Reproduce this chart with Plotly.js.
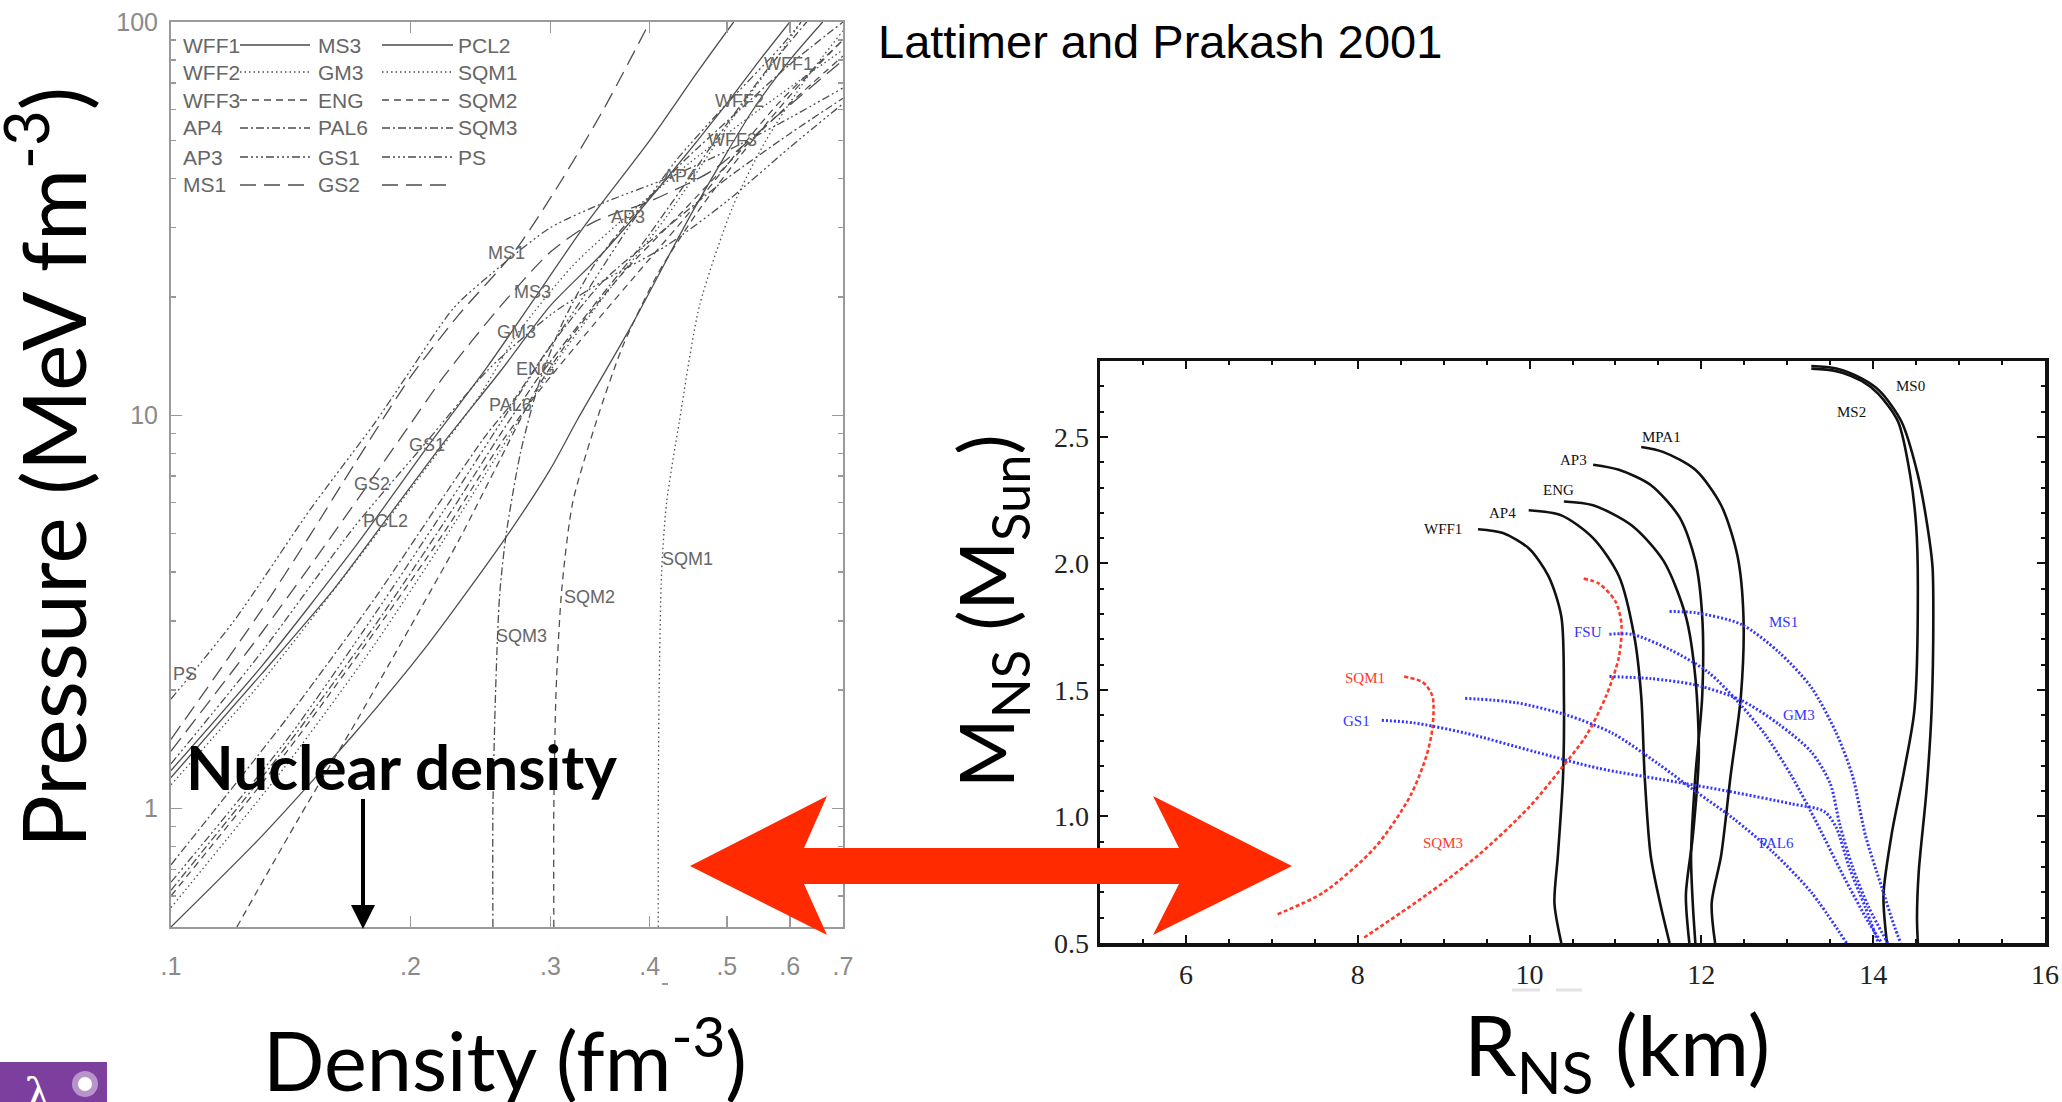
<!DOCTYPE html>
<html>
<head>
<meta charset="utf-8">
<script src="https://cdn.plot.ly/plotly-3.0.1.min.js"></script>
<style>html,body{margin:0;padding:0;background:#fff;}#chart{width:2062px;height:1102px;}</style>
</head>
<body>
<div id="chart"></div>
<script>
// ---------------- LEFT PANEL DATA: pressure (MeV fm^-3) vs density (fm^-3) ----------------
const rho_WFF1 = [0.1,0.13,0.17,0.21,0.262,0.3,0.324,0.38,0.453,0.54,0.6,0.66];
const P_WFF1   = [0.5,0.85,1.55,2.6,4.8,7.3,9.7,17,33,60,80,100];
const rho_WFF2 = [0.1,0.14,0.18,0.22,0.26,0.3,0.35,0.42,0.518,0.58,0.62];
const P_WFF2   = [0.56,1.3,2.6,4.8,8.2,13,20,32,60,82,100];
const rho_WFF3 = [0.1,0.14,0.18,0.22,0.26,0.29,0.34,0.4,0.45,0.508,0.58,0.7];
const P_WFF3   = [0.6,1.4,2.8,5.0,8.5,11.5,17,25,33,45,62,90];
const rho_AP4  = [0.1,0.14,0.18,0.22,0.26,0.29,0.34,0.39,0.436,0.5,0.56,0.63];
const P_AP4    = [0.62,1.45,2.9,5.3,9,12.5,19,27,37,55,75,100];
const rho_AP3  = [0.1,0.14,0.18,0.22,0.26,0.29,0.33,0.376,0.43,0.5,0.58,0.62];
const P_AP3    = [0.65,1.5,3.1,5.7,9.6,13.5,20,30,44,62,85,100];
const rho_MS1  = [0.1,0.13,0.15,0.17,0.2,0.23,0.27,0.306,0.35,0.4];
const P_MS1    = [1.5,3.2,5.0,7.5,12.5,18,26,38,60,100];
const rho_MS3  = [0.1,0.13,0.17,0.21,0.25,0.285,0.33,0.4,0.46,0.51];
const P_MS3    = [1.25,2.3,4.6,8.3,13.3,19.5,30,50,75,100];
const rho_GM3  = [0.1,0.13,0.17,0.21,0.245,0.272,0.32,0.38,0.45,0.55,0.7];
const P_GM3    = [1.15,2.1,4.2,7.4,11.3,16,24,33,44,60,85];
const rho_ENG  = [0.121,0.145,0.172,0.2,0.23,0.26,0.287,0.32,0.37,0.44,0.52,0.6,0.7];
const P_ENG    = [0.5,0.95,1.7,2.9,4.8,7.8,11.5,16,23,33,47,62,82];
const rho_PAL6 = [0.1,0.14,0.18,0.22,0.25,0.267,0.3,0.35,0.42,0.5,0.6,0.7];
const P_PAL6   = [0.72,1.7,3.4,6.2,9,10.6,15,22,30,40,52,64];
const rho_GS1  = [0.1,0.13,0.17,0.21,0.25,0.3,0.35,0.42,0.5,0.6,0.7];
const P_GS1    = [1.3,2.5,5.2,8.6,13,18,22,27,35,48,62];
const rho_GS2  = [0.1,0.13,0.16,0.179,0.2,0.22,0.26,0.3,0.34,0.4,0.48,0.58,0.7];
const P_GS2    = [1.4,2.8,5.0,6.9,9.5,12.5,19,26,31,35,42,58,80];
const rho_PCL2 = [0.1,0.13,0.16,0.186,0.22,0.26,0.3,0.35,0.42,0.5,0.55,0.6];
const P_PCL2   = [1.2,2.2,3.6,5.4,8.5,13,19,26,40,62,80,100];
const rho_SQM1 = [0.41,0.41,0.411,0.414,0.42,0.436,0.462,0.509,0.56,0.63,0.7];
const P_SQM1   = [0.5,1,2,4,6,9.7,19,34,50,72,95];
const rho_SQM2 = [0.303,0.303,0.305,0.31,0.32,0.343,0.37,0.41,0.46,0.53,0.62,0.7];
const P_SQM2   = [0.5,1,2,3.6,6,9.7,15,23,33,48,70,90];
const rho_SQM3 = [0.254,0.254,0.256,0.259,0.264,0.275,0.29,0.31,0.34,0.38,0.44,0.52,0.6,0.7];
const P_SQM3   = [0.5,1,2,3.5,5,8,12,17,24,32,44,60,78,100];
const rho_PS   = [0.1,0.12,0.15,0.18,0.2,0.227,0.26,0.3,0.35,0.42,0.5,0.6,0.7];
const P_PS     = [1.9,3.0,5.8,9.5,13,18.8,24,30,34.7,40,47,57,68];

const leftLabelNames = ['WFF1','WFF2','WFF3','AP4','AP3','MS1','MS3','GM3','ENG','PAL6','GS1','GS2','PCL2','SQM1','SQM2','SQM3','PS'];
const leftLabelRho   = [0.598,0.518,0.508,0.436,0.376,0.264,0.285,0.272,0.287,0.267,0.210,0.179,0.186,0.446,0.336,0.276,0.104];
const leftLabelP     = [78,63,50,40.7,32,25.8,20.6,16.3,13.1,10.6,8.4,6.7,5.4,4.3,3.45,2.75,2.2];

const legendCol1 = ['WFF1','WFF2','WFF3','AP4','AP3','MS1'];
const legendCol2 = ['MS3','GM3','ENG','PAL6','GS1','GS2'];
const legendCol3 = ['PCL2','SQM1','SQM2','SQM3','PS',''];

const densityTickVals = [0.1,0.2,0.3,0.4,0.5,0.6,0.7];
const densityTickText = ['.1','.2','.3','.4','.5','.6','.7'];
const pressureTickVals = [1,10,100];
const pressureTickText = ['1','10','100'];

// ---------------- RIGHT PANEL DATA: mass (Msun) vs radius (km) ----------------
const R_WFF1 = [9.40,9.69,9.99,10.22,10.37,10.40,10.39,10.33,10.29,10.37];
const M_WFF1 = [2.135,2.12,2.06,1.95,1.79,1.475,1.16,0.846,0.657,0.5];
const R_AP4  = [9.99,10.37,10.74,11.04,11.22,11.30,11.34,11.41,11.52,11.63];
const M_AP4  = [2.21,2.19,2.10,1.95,1.71,1.475,1.16,0.846,0.657,0.5];
const R_ENG  = [10.40,10.74,11.19,11.56,11.82,11.93,11.97,11.90,11.82,11.86];
const M_ENG  = [2.245,2.23,2.15,2.01,1.79,1.55,1.24,0.92,0.69,0.5];
const R_AP3  = [10.74,11.04,11.41,11.75,11.93,12.01,12.01,11.93,11.88,11.90,11.93];
const M_AP3  = [2.39,2.37,2.31,2.18,2.01,1.79,1.475,1.16,0.846,0.657,0.5];
const R_MPA1 = [11.30,11.56,11.93,12.23,12.42,12.49,12.46,12.34,12.23,12.12,12.16];
const M_MPA1 = [2.46,2.44,2.37,2.23,2.03,1.79,1.475,1.16,0.846,0.657,0.5];
const R_MS0  = [13.28,13.57,13.87,14.08,14.33,14.52,14.63,14.69,14.70,14.68,14.62,14.53,14.51,14.52];
const M_MS0  = [2.78,2.77,2.73,2.68,2.56,2.35,2.15,1.99,1.83,1.42,1.10,0.78,0.6,0.5];
const R_MS2  = [13.28,13.57,13.87,14.06,14.29,14.43,14.50,14.52,14.48,14.36,14.22,14.12,14.16];
const M_MS2  = [2.77,2.76,2.72,2.67,2.56,2.35,2.15,1.91,1.42,1.18,0.94,0.69,0.5];
const R_SQM1 = [8.54,8.76,8.87,8.87,8.80,8.61,8.20,7.60,7.04];
const M_SQM1 = [1.553,1.53,1.475,1.35,1.24,1.08,0.877,0.70,0.61];
const R_SQM3 = [10.63,10.81,11.0,11.07,11.04,10.89,10.66,10.37,9.99,9.40,8.80,8.05];
const M_SQM3 = [1.94,1.92,1.85,1.76,1.63,1.475,1.32,1.19,1.035,0.846,0.69,0.516];
const R_GS1  = [8.28,8.65,9.25,10.07,10.81,11.56,12.31,13.05,13.43,13.57,13.72,13.91,14.06];
const M_GS1  = [1.38,1.37,1.33,1.255,1.19,1.145,1.10,1.05,1.02,0.956,0.80,0.64,0.5];
const R_PAL6 = [9.25,9.84,10.44,10.96,11.49,11.93,12.38,12.83,13.28,13.69];
const M_PAL6 = [1.467,1.45,1.40,1.33,1.21,1.10,0.99,0.86,0.70,0.5];
const R_FSU  = [10.93,11.19,11.63,12.08,12.46,12.75,13.05,13.35,13.65,13.95,14.10];
const M_FSU  = [1.72,1.72,1.66,1.57,1.44,1.32,1.16,0.97,0.767,0.58,0.5];
const R_GM3  = [10.93,11.41,11.93,12.46,12.90,13.28,13.50,13.61,13.76,13.95,14.17];
const M_GM3  = [1.553,1.545,1.52,1.46,1.365,1.255,1.13,0.97,0.80,0.64,0.5];
const R_MS1  = [11.63,11.93,12.46,12.90,13.28,13.57,13.76,13.91,14.10,14.25,14.32];
const M_MS1  = [1.81,1.805,1.76,1.65,1.51,1.33,1.16,0.925,0.72,0.563,0.5];

const rightLabelNames = ['MS0','MS2','MPA1','AP3','ENG','AP4','WFF1','SQM1','GS1','FSU','MS1','GM3','PAL6','SQM3'];
const rightLabelR     = [14.43,13.75,11.54,10.51,10.34,9.69,8.99,8.09,7.99,10.68,12.96,13.14,12.87,8.99];
const rightLabelM     = [2.70,2.60,2.50,2.41,2.29,2.20,2.135,1.546,1.377,1.73,1.77,1.40,0.896,0.896];
const rightLabelKind  = ['k','k','k','k','k','k','k','r','b','b','b','b','b','r'];

const radiusTickVals = [6,8,10,12,14,16];
const massTickVals = [0.5,1.0,1.5,2.0,2.5];
const massTickText = ['0.5','1.0','1.5','2.0','2.5'];

// ---------------- STYLES ----------------
const W = 2062, H = 1102;
const px = x => x / W;
const py = y => 1 - y / H;
const DASH = {
  solid: 'solid',
  dot: '1.5px,3px',
  dash: '7px,5px',
  dashdot: '8px,3px,2px,3px',
  dashdotdot: '8px,3px,2px,3px,2px,3px,2px,3px',
  longdash: '16px,8px'
};
const leftStyle = {
  WFF1:'solid', MS3:'solid', PCL2:'solid',
  WFF2:'dot', GM3:'dot', SQM1:'dot',
  WFF3:'dash', ENG:'dash', SQM2:'dash',
  AP4:'dashdot', PAL6:'dashdot', SQM3:'dashdot',
  AP3:'dashdotdot', GS1:'dashdotdot', PS:'dashdotdot',
  MS1:'longdash', GS2:'longdash'
};
const leftSeries = [
  ['WFF1',rho_WFF1,P_WFF1],['WFF2',rho_WFF2,P_WFF2],['WFF3',rho_WFF3,P_WFF3],
  ['AP4',rho_AP4,P_AP4],['AP3',rho_AP3,P_AP3],['MS1',rho_MS1,P_MS1],
  ['MS3',rho_MS3,P_MS3],['GM3',rho_GM3,P_GM3],['ENG',rho_ENG,P_ENG],
  ['PAL6',rho_PAL6,P_PAL6],['GS1',rho_GS1,P_GS1],['GS2',rho_GS2,P_GS2],
  ['PCL2',rho_PCL2,P_PCL2],['SQM1',rho_SQM1,P_SQM1],['SQM2',rho_SQM2,P_SQM2],
  ['SQM3',rho_SQM3,P_SQM3],['PS',rho_PS,P_PS]
];
const rightSeries = [
  ['WFF1',R_WFF1,M_WFF1,'k'],['AP4',R_AP4,M_AP4,'k'],['ENG',R_ENG,M_ENG,'k'],
  ['AP3',R_AP3,M_AP3,'k'],['MPA1',R_MPA1,M_MPA1,'k'],['MS0',R_MS0,M_MS0,'k'],
  ['MS2',R_MS2,M_MS2,'k'],['SQM1',R_SQM1,M_SQM1,'r'],['SQM3',R_SQM3,M_SQM3,'r'],
  ['GS1',R_GS1,M_GS1,'b'],['PAL6',R_PAL6,M_PAL6,'b'],['FSU',R_FSU,M_FSU,'b'],
  ['GM3',R_GM3,M_GM3,'b'],['MS1',R_MS1,M_MS1,'b']
];
const kindColor = {k:'#111111', r:'#ff3a2a', b:'#3434ff'};
const kindLine = {
  k:{color:'#111111', width:2.6, dash:'solid'},
  r:{color:'#ff3a2a', width:2.6, dash:'4px,2.5px'},
  b:{color:'#3434ff', width:3, dash:'2px,2px'}
};

const traces = [];
leftSeries.forEach(([name, xs, ys]) => {
  traces.push({
    type:'scatter', mode:'lines', name:name, x:xs, y:ys, xaxis:'x', yaxis:'y',
    line:{color:'#4f4f4f', width:1.3, dash:DASH[leftStyle[name]], shape:'spline', smoothing:0.7},
    hoverinfo:'skip'
  });
});
rightSeries.forEach(([name, xs, ys, kind]) => {
  const l = kindLine[kind];
  traces.push({
    type:'scatter', mode:'lines', name:name, x:xs, y:ys, xaxis:'x2', yaxis:'y2',
    line:{color:l.color, width:l.width, dash:l.dash, shape:'spline', smoothing:0.8},
    hoverinfo:'skip'
  });
});

const annotations = [];
const shapes = [];

// left panel curve labels
leftLabelNames.forEach((n, i) => {
  annotations.push({xref:'x', yref:'y', x:Math.log10(leftLabelRho[i]), y:Math.log10(leftLabelP[i]),
    text:n, showarrow:false, xanchor:'center', yanchor:'middle',
    font:{family:'Liberation Sans Narrow, Liberation Sans, Arial', size:18, color:'#666'}});
});
// right panel curve labels
rightLabelNames.forEach((n, i) => {
  annotations.push({xref:'x2', yref:'y2', x:rightLabelR[i], y:rightLabelM[i],
    text:n, showarrow:false, xanchor:'center', yanchor:'middle',
    font:{family:'Liberation Serif, Times New Roman, serif', size:15, color:kindColor[rightLabelKind[i]]}});
});

// left panel legend
const legendRowsY = [45,72,100,128,157,185];
const legendDash = ['solid','dot','dash','dashdot','dashdotdot','longdash'];
const legTextFont = {family:'Liberation Sans Narrow, Liberation Sans, Arial', size:21, color:'#666'};
legendRowsY.forEach((yy, r) => {
  [[legendCol1,181],[legendCol2,316],[legendCol3,456]].forEach(([col, xx]) => {
    if (col[r]) annotations.push({xref:'paper', yref:'paper', x:px(xx), y:py(yy), text:col[r],
      showarrow:false, xanchor:'left', yanchor:'middle', font:legTextFont});
  });
  [[240,310],[382,453]].forEach(([x0,x1]) => {
    shapes.push({type:'line', xref:'paper', yref:'paper', x0:px(x0), x1:px(x1), y0:py(yy), y1:py(yy),
      line:{color:'#777', width:1.9, dash:DASH[legendDash[r]]}});
  });
});

// titles and texts
const gill = 'Lato, Open Sans, sans-serif';
annotations.push({xref:'paper', yref:'paper', x:px(46), y:py(468), text:'Pressure (MeV fm<sup>-3</sup>)',
  textangle:-90, showarrow:false, xanchor:'center', yanchor:'middle', font:{family:gill, size:88, color:'#000'}});
annotations.push({xref:'paper', yref:'paper', x:px(505), y:py(1054), text:'Density (fm<sup>-3</sup>)',
  showarrow:false, xanchor:'center', yanchor:'middle', font:{family:gill, size:81, color:'#000'}});
annotations.push({xref:'paper', yref:'paper', x:px(1617), y:py(1050), text:'R<sub>NS</sub> (km)',
  showarrow:false, xanchor:'center', yanchor:'middle', font:{family:gill, size:84, color:'#000'}});
annotations.push({xref:'paper', yref:'paper', x:px(990), y:py(611), text:'M<sub>NS</sub> (M<sub>Sun</sub>)',
  textangle:-90, showarrow:false, xanchor:'center', yanchor:'middle', font:{family:gill, size:75, color:'#000'}});
annotations.push({xref:'paper', yref:'paper', x:px(1160), y:py(41), text:'Lattimer and Prakash 2001',
  showarrow:false, xanchor:'center', yanchor:'middle', font:{family:'Liberation Sans, Arial', size:47, color:'#000'}});
annotations.push({xref:'paper', yref:'paper', x:px(401), y:py(766), text:'<b>Nuclear density</b>',
  showarrow:false, xanchor:'center', yanchor:'middle', font:{family:gill, size:62, color:'#000'}});

// black arrow (nuclear density)
shapes.push({type:'line', xref:'paper', yref:'paper', x0:px(363), x1:px(363), y0:py(799), y1:py(908),
  line:{color:'#000', width:4}});
shapes.push({type:'path', xref:'paper', yref:'paper',
  path:`M ${px(351)},${py(905)} L ${px(375)},${py(905)} L ${px(363)},${py(929)} Z`,
  fillcolor:'#000', line:{width:0}});

// red double arrow
const arrowPts = [[690,866],[827,796],[804,848],[1179,848],[1153,796],[1292,866],[1153,935],[1179,884],[804,884],[827,935]];
shapes.push({type:'path', xref:'paper', yref:'paper',
  path:'M ' + arrowPts.map(p => `${px(p[0])},${py(p[1])}`).join(' L ') + ' Z',
  fillcolor:'#ff2a00', line:{width:0}});

// faint remnants under the axes in the source slide
shapes.push({type:'line', xref:'paper', yref:'paper', x0:px(662), x1:px(668), y0:py(984), y1:py(984),
  line:{color:'#999', width:2}});
shapes.push({type:'line', xref:'paper', yref:'paper', x0:px(1512), x1:px(1540), y0:py(990), y1:py(990),
  line:{color:'#e2e2e2', width:3}});
shapes.push({type:'line', xref:'paper', yref:'paper', x0:px(1556), x1:px(1582), y0:py(990), y1:py(990),
  line:{color:'#e2e2e2', width:3}});

// logo
shapes.push({type:'rect', xref:'paper', yref:'paper', x0:0, x1:px(107), y0:0, y1:py(1062),
  fillcolor:'#7d3f9e', line:{width:0}});
shapes.push({type:'circle', xref:'paper', yref:'paper', x0:px(72), x1:px(98), y0:py(1097), y1:py(1071),
  fillcolor:'rgba(255,255,255,0.45)', line:{width:0}});
shapes.push({type:'circle', xref:'paper', yref:'paper', x0:px(78), x1:px(92), y0:py(1091), y1:py(1077),
  fillcolor:'#ffffff', line:{width:0}});
annotations.push({xref:'paper', yref:'paper', x:px(38), y:py(1094), text:'λ',
  showarrow:false, xanchor:'center', yanchor:'middle', font:{family:'DejaVu Serif, serif', size:44, color:'#fff'}});

const minorP = [0.6,0.7,0.8,0.9,2,3,4,5,6,7,8,9,20,30,40,50,60,70,80,90];

const layout = {
  width:W, height:H, margin:{l:0,r:0,t:0,b:0},
  paper_bgcolor:'#fff', plot_bgcolor:'#fff', showlegend:false,
  xaxis:{domain:[px(171),px(843)], type:'log', range:[-1, Math.log10(0.7)], anchor:'y',
    tickmode:'array', tickvals:densityTickVals, ticktext:densityTickText,
    ticks:'inside', ticklen:11, tickwidth:1.5, tickcolor:'#999',
    showline:true, linecolor:'#9a9a9a', linewidth:2, mirror:'allticks',
    showgrid:false, zeroline:false, ticklabelstandoff:16,
    tickfont:{family:'Liberation Sans, Arial', size:25, color:'#8a8a8a'}},
  yaxis:{domain:[py(927),py(22)], type:'log', range:[Math.log10(0.5), 2], anchor:'x',
    tickmode:'array', tickvals:pressureTickVals, ticktext:pressureTickText,
    ticks:'inside', ticklen:11, tickwidth:1.5, tickcolor:'#999',
    minor:{tickmode:'array', tickvals:minorP, ticks:'inside', ticklen:5, tickwidth:1.5, tickcolor:'#999', showgrid:false},
    showline:true, linecolor:'#9a9a9a', linewidth:2, mirror:'allticks',
    showgrid:false, zeroline:false, ticklabelstandoff:6,
    tickfont:{family:'Liberation Sans, Arial', size:25, color:'#8a8a8a'}},
  xaxis2:{domain:[px(1100),px(2045)], range:[5,16], anchor:'y2',
    tickmode:'array', tickvals:radiusTickVals,
    ticks:'inside', ticklen:8, tickwidth:2, tickcolor:'#111',
    minor:{dtick:0.5, tick0:0, ticks:'inside', ticklen:4, tickwidth:2, tickcolor:'#111', showgrid:false},
    showline:true, linecolor:'#111', linewidth:3.5, mirror:'allticks',
    showgrid:false, zeroline:false, ticklabelstandoff:4,
    tickfont:{family:'Liberation Serif, Times New Roman, serif', size:28, color:'#222'}},
  yaxis2:{domain:[py(943),py(361)], range:[0.5,2.8], anchor:'x2',
    tickmode:'array', tickvals:massTickVals, ticktext:massTickText,
    ticks:'inside', ticklen:8, tickwidth:2, tickcolor:'#111',
    minor:{dtick:0.1, tick0:0, ticks:'inside', ticklen:4, tickwidth:2, tickcolor:'#111', showgrid:false},
    showline:true, linecolor:'#111', linewidth:3.5, mirror:'allticks',
    showgrid:false, zeroline:false, ticklabelstandoff:2,
    tickfont:{family:'Liberation Serif, Times New Roman, serif', size:28, color:'#222'}},
  annotations:annotations,
  shapes:shapes
};

Plotly.newPlot('chart', traces, layout, {staticPlot:true, displayModeBar:false});
</script>
</body>
</html>
